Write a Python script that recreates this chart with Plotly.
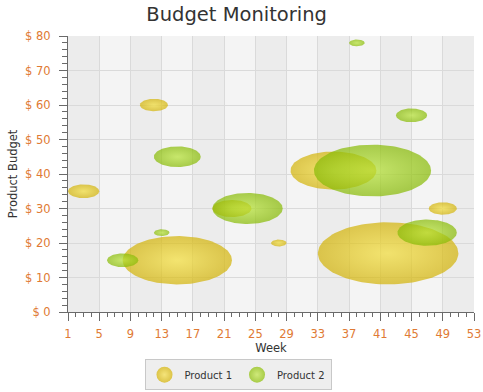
import numpy as np
import plotly.graph_objects as go

# ---- data ----
series_names = ["Product 1", "Product 2"]
p1_week = [3, 12, 15, 22, 28, 35, 42, 49]
p1_budget = [35, 60, 15, 30, 20, 41, 17, 30]
p1_radius = [2, 1.8, 7, 2.5, 1, 5.5, 9, 1.8]

p2_week = [8, 13, 15, 24, 38, 40, 45, 47]
p2_budget = [15, 23, 45, 30, 78, 41, 57, 23]
p2_radius = [2, 1, 3, 4.5, 1, 7.5, 2, 3.8]

x_ticks = list(range(1, 54, 4))
y_ticks = list(range(0, 81, 10))
y_labels = ["$ %d" % v for v in y_ticks]

# ---- style ----
FONT = "DejaVu Sans"
ORANGE = "#e07a34"
styles = {
    "Product 1": dict(center="rgba(243,222,60,0.72)", edge="rgba(211,180,12,0.72)",
                      legend_center="#f5e47a", legend_edge="#dcc448"),
    "Product 2": dict(center="rgba(182,226,55,0.72)", edge="rgba(137,187,8,0.72)",
                      legend_center="#cfe97a", legend_edge="#a8cc48"),
}

fig = go.Figure()
theta = np.linspace(0, 2 * np.pi, 120)

for name, xs, ys, rs in [("Product 1", p1_week, p1_budget, p1_radius),
                         ("Product 2", p2_week, p2_budget, p2_radius)]:
    st = styles[name]
    for cx, cy, r in zip(xs, ys, rs):
        fig.add_trace(go.Scatter(
            x=cx + r * np.cos(theta), y=cy + r * np.sin(theta),
            mode="lines", line=dict(width=0, color=st["edge"]),
            fill="toself",
            fillgradient=dict(type="radial",
                              colorscale=[[0, st["center"]], [1, st["edge"]]]),
            showlegend=False, legendgroup=name, hoverinfo="skip",
        ))
    # legend entry
    fig.add_trace(go.Scatter(
        x=[None], y=[None], mode="markers", name=name, legendgroup=name,
        marker=dict(size=16, color=st["legend_edge"], line=dict(width=0),
                    gradient=dict(type="radial", color=st["legend_center"])),
    ))

# alternating column bands
shapes = []
for i in range(len(x_ticks) - 1):
    if i % 2 == 0:
        shapes.append(dict(type="rect", xref="x", yref="paper",
                           x0=x_ticks[i], x1=x_ticks[i + 1], y0=0, y1=1,
                           fillcolor="#ececec", line=dict(width=0), layer="below"))

axis_common = dict(
    automargin=False,
    showline=True, linecolor="#6a6a6a", linewidth=1,
    ticks="outside", ticklen=8, tickcolor="#6a6a6a", tickwidth=1,
    showgrid=True, gridcolor="#dadada", gridwidth=1, zeroline=False,
    tickfont=dict(family=FONT, size=11.5, color=ORANGE),
    title_font=dict(family=FONT, size=11.5, color="#333333"),
)

fig.update_layout(
    width=483, height=392,
    margin=dict(l=68, r=9, t=36, b=80, autoexpand=False),
    paper_bgcolor="white", plot_bgcolor="#f4f4f4",
    font=dict(family=FONT, size=11, color="#333333"),
    title=dict(text="Budget Monitoring", x=0.49, xref="container", xanchor="center",
               y=1 - 14 / 392, yref="container", yanchor="middle",
               font=dict(family=FONT, size=19.5, color="#333333")),
    shapes=shapes,
    showlegend=True,
    legend=dict(orientation="h", xref="paper", x=(238 - 68) / 406, xanchor="center",
                yref="paper", y=(312.3 - 375) / 276.3, yanchor="middle",
                bgcolor="#eeeeee", bordercolor="#c8c8c8", borderwidth=1,
                font=dict(family=FONT, size=10, color="#333333"),
                itemwidth=30, tracegroupgap=0),
    xaxis=dict(range=[1, 53], tickmode="array", tickvals=x_ticks,
               ticklabelstandoff=3,
               minor=dict(dtick=1, tick0=1, ticks="outside", ticklen=4,
                          tickcolor="#6a6a6a", showgrid=False),
               title=dict(text="Week", standoff=1), **axis_common),
    yaxis=dict(range=[0, 80], tickmode="array", tickvals=y_ticks, ticktext=y_labels,
               ticklabelstandoff=6,
               minor=dict(dtick=2, tick0=0, ticks="outside", ticklen=5,
                          tickcolor="#6a6a6a", showgrid=False),
               title=dict(text="Product Budget", standoff=5), **axis_common),
)

fig.write_html("out.html", config={"displayModeBar": False},
               post_script="document.body.style.margin='0';document.body.style.overflow='hidden';")
